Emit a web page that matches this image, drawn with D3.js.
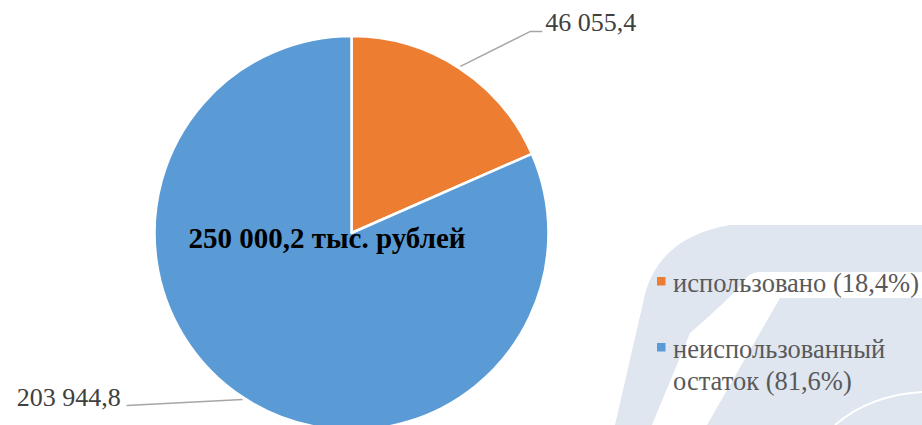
<!DOCTYPE html>
<html>
<head>
<meta charset="utf-8">
<script src="https://cdn.jsdelivr.net/npm/d3@7"></script>
<style>
  body { margin: 0; background: #fff; }
  svg { display: block; }
  text { font-family: "Liberation Serif", "Times New Roman", serif; }
</style>
</head>
<body>
<svg class="chart"></svg>
<script>
var width = 922,
    height = 425;

// data
var categories = ["использовано", "неиспользованный остаток"];
var values = [46055.4, 203944.8];
var valueLabels = ["46 055,4", "203 944,8"];
var legendLabels = [["использовано (18,4%)"], ["неиспользованный", "остаток (81,6%)"]];
var totalLabel = "250 000,2 тыс. рублей";
var colours = ["#ED7D31", "#5B9BD5"];

var cx = 351.5, cy = 233, radius = 197;

var chart = d3.select(".chart")
    .attr("width", width)
    .attr("height", height);

// faint background watermark
var wm = chart.append("g");
wm.append("path")
    .attr("d", "M730,225 H922 V425 H615 L643,303 Q655,238 730,225 Z")
    .style("fill", "#dfe6f0");
wm.append("path")
    .attr("d", "M760,272 H922 V298 H780 L707,425 H652 L690,333 Q728,300 742,284 Q748,272 760,272 Z")
    .style("fill", "#fff");
wm.append("path")
    .attr("d", "M835,425 Q870,395 922,392")
    .style("fill", "none")
    .style("stroke", "#fff")
    .style("stroke-width", 2);

var colour = d3.scaleOrdinal()
    .domain(categories)
    .range(colours);

var pie = d3.pie()
    .sort(null)
    .value(function(d) { return d.value; });

var arc = d3.arc()
    .innerRadius(0)
    .outerRadius(radius);

var data = categories.map(function(c, i) { return {name: c, value: values[i], label: valueLabels[i]}; });
var arcs = pie(data);

var container = chart.append("g")
    .attr("transform", "translate(" + cx + "," + cy + ")");

container.selectAll(".slice")
    .data(arcs)
  .enter().append("path")
    .attr("class", "slice")
    .attr("d", arc)
    .style("fill", function(d) { return colour(d.data.name); })
    .style("stroke", "#fff")
    .style("stroke-width", 2.5)
    .style("stroke-linejoin", "round");

// leader lines and value labels
var elbow = [{dx: 70, dy: -35, run: 12, gap: 3, anchor: "start"}, {dx: -116, dy: 6, run: 0, gap: 6, anchor: "end"}];

arcs.forEach(function(d, i) {
  var mid = (d.startAngle + d.endAngle) / 2;
  var x0 = Math.sin(mid) * (radius + 2),
      y0 = -Math.cos(mid) * (radius + 2);
  var e = elbow[i];
  var x1 = x0 + e.dx, y1 = y0 + e.dy;
  var dir = e.anchor === "start" ? 1 : -1;
  var x2 = x1 + dir * e.run;
  container.append("polyline")
      .attr("points", [[x0, y0], [x1, y1], [x2, y1]].join(" "))
      .style("fill", "none")
      .style("stroke", "#a6a6a6")
      .style("stroke-width", 1.5);
  container.append("text")
      .attr("x", x2 + dir * e.gap)
      .attr("y", y1)
      .style("text-anchor", e.anchor)
      .style("font-size", "26px")
      .style("fill", "#404040")
      .text(d.data.label);
});

chart.append("text")
    .attr("x", 327)
    .attr("y", 248)
    .style("text-anchor", "middle")
    .style("font-size", "29px")
    .style("font-weight", "bold")
    .style("fill", "#000")
    .text(totalLabel);

// legend
var legend = chart.selectAll(".legend")
    .data(categories)
  .enter().append("g")
    .attr("class", "legend")
    .attr("transform", function(d, i) { return "translate(657," + (292 + i * 66) + ")"; });

legend.append("rect")
    .attr("x", 0)
    .attr("y", -15)
    .attr("width", 8.5)
    .attr("height", 8.5)
    .style("fill", colour);

legend.append("text")
    .attr("x", 16)
    .style("font-size", "26.5px")
    .style("fill", "#595959")
    .selectAll("tspan")
    .data(function(d, i) { return legendLabels[i]; })
  .enter().append("tspan")
    .attr("x", 16)
    .attr("dy", function(d, j) { return j === 0 ? 0 : 32; })
    .text(function(d) { return d; });
</script>
</body>
</html>
